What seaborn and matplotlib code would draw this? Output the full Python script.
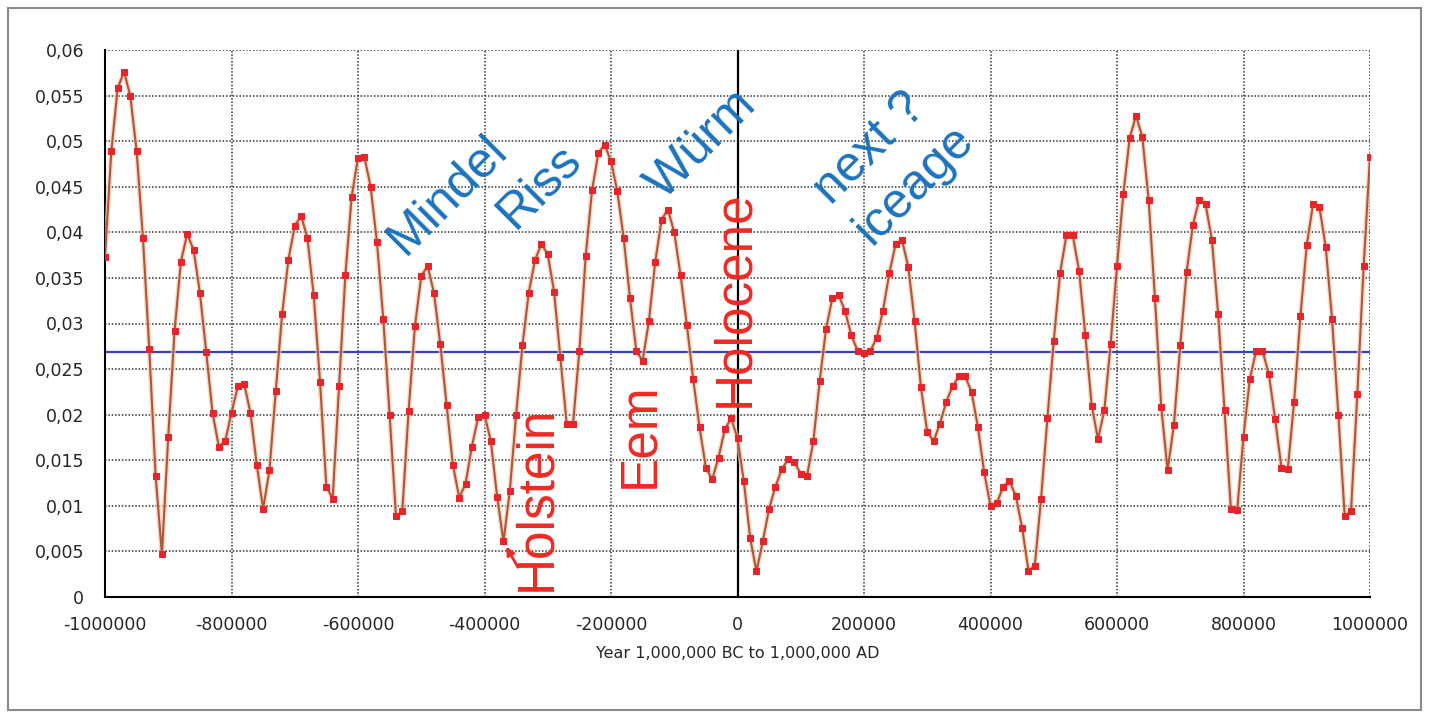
import numpy as np
import pandas as pd
import matplotlib
matplotlib.use("Agg")
import matplotlib.pyplot as plt
from matplotlib.patches import Rectangle
import seaborn as sns

# ---- data (eccentricity, sampled every 10,000 years) ----
year_start = -1000000
year_end = 1000000
year_step = 10000

ecc_a = [0.0373, 0.0489, 0.0558, 0.0576, 0.0550, 0.0489, 0.0394, 0.0272, 0.0133, 0.0047,
         0.0176, 0.0292, 0.0368, 0.0398, 0.0381, 0.0334, 0.0269, 0.0202, 0.0165, 0.0171,
         0.0202, 0.0231, 0.0234, 0.0202, 0.0145, 0.0097]
ecc_b = [0.0139, 0.0226, 0.0310, 0.0370, 0.0407, 0.0418, 0.0394, 0.0331, 0.0236, 0.0121,
         0.0108, 0.0231, 0.0353, 0.0439, 0.0482, 0.0483, 0.0450, 0.0389, 0.0305, 0.0200,
         0.0089, 0.0094, 0.0204, 0.0297, 0.0352]
ecc_c = [0.0363, 0.0334, 0.0278, 0.0211, 0.0145, 0.0109, 0.0124, 0.0165, 0.0197, 0.0200,
         0.0171, 0.0110, 0.0061, 0.0116, 0.0200, 0.0276, 0.0334, 0.0370, 0.0387, 0.0376,
         0.0335, 0.0263, 0.0190, 0.0190, 0.0270]
ecc_d = [0.0374, 0.0446, 0.0487, 0.0496, 0.0478, 0.0445, 0.0394, 0.0328, 0.0270, 0.0259,
         0.0303, 0.0368, 0.0414, 0.0425, 0.0400, 0.0353, 0.0298, 0.0239, 0.0186, 0.0142,
         0.0129, 0.0153, 0.0184, 0.0196, 0.0174]
ecc_e = [0.0127, 0.0065, 0.0028, 0.0061, 0.0097, 0.0121, 0.0140, 0.0151, 0.0148, 0.0135,
         0.0133, 0.0171, 0.0237, 0.0294, 0.0328, 0.0331, 0.0314, 0.0287, 0.0270, 0.0268,
         0.0270, 0.0284, 0.0314, 0.0355, 0.0387]
ecc_f = [0.0392, 0.0362, 0.0303, 0.0230, 0.0181, 0.0171, 0.0190, 0.0214, 0.0231, 0.0242,
         0.0242, 0.0225, 0.0187, 0.0137, 0.0100, 0.0103, 0.0121, 0.0127, 0.0111, 0.0076,
         0.0029, 0.0034, 0.0108, 0.0196, 0.0281]
ecc_g = [0.0355, 0.0397, 0.0397, 0.0358, 0.0287, 0.0210, 0.0173, 0.0205, 0.0278, 0.0363,
         0.0442, 0.0503, 0.0528, 0.0505, 0.0436, 0.0328, 0.0208, 0.0139, 0.0189, 0.0276,
         0.0356, 0.0408, 0.0436, 0.0431, 0.0392]
ecc_h = [0.0310, 0.0205, 0.0097, 0.0095, 0.0176, 0.0239, 0.0270, 0.0270, 0.0245, 0.0195,
         0.0142, 0.0140, 0.0214, 0.0308, 0.0386, 0.0431, 0.0428, 0.0384, 0.0305, 0.0200,
         0.0089, 0.0094, 0.0223, 0.0363, 0.0483]

mean_level = 0.0269

x_ticks = [-1000000, -800000, -600000, -400000, -200000, 0, 200000, 400000, 600000, 800000, 1000000]
y_ticks = [0, 0.005, 0.01, 0.015, 0.02, 0.025, 0.03, 0.035, 0.04, 0.045, 0.05, 0.055, 0.06]

blue_labels = ["Mindel", "Riss", "Würm", "next ?\niceage"]
blue_pos = [(-458000, 0.0441), (-313000, 0.0450), (-57000, 0.0496), (248000, 0.0474)]
red_labels = ["Holocene", "Eem", "Holstein"]
red_pos = [(-4700, 0.0327), (-155000, 0.0178), (-318000, 0.0108)]

x_label = "Year 1,000,000 BC to 1,000,000 AD"

# ---- build frame ----
years = np.arange(year_start, year_end + 1, year_step)
ecc = ecc_a + ecc_b + ecc_c + ecc_d + ecc_e + ecc_f + ecc_g + ecc_h
df = pd.DataFrame({"year": years, "ecc": ecc})

sns.set_style("white")
plt.rcParams["font.family"] = ["DejaVu Sans"]
plt.rcParams["axes.unicode_minus"] = False

W, H = 1429, 718
fig = plt.figure(figsize=(W / 100, H / 100), dpi=100)
ax = fig.add_axes([105 / W, 1 - 597 / H, (1370 - 105) / W, (597 - 50) / H])

grid_style = dict(color="#333333", linewidth=1.1, linestyle=(0, (1, 1.2)), zorder=1)
for yt in y_ticks[1:]:
    ax.axhline(yt, **grid_style)
for xt in x_ticks:
    if xt != 0 and xt != x_ticks[0]:
        ax.axvline(xt, **grid_style)

# mean level line
ax.axhline(mean_level, color="#3b3fb5", linewidth=1.6, zorder=2)
# zero year line
ax.axvline(0, color="black", linewidth=1.6, zorder=2)

# halo under line
ax.plot(df["year"], df["ecc"], color="#f6c9a8", linewidth=3.5, zorder=3, alpha=0.7)
sns.lineplot(data=df, x="year", y="ecc", ax=ax, color="#b0553c", linewidth=1.5,
             marker="s", markersize=4.8, markerfacecolor="#e8232a",
             markeredgecolor="#e8232a", zorder=4)

ax.set_xlim(year_start, year_end)
ax.set_ylim(0, 0.06)
ax.set_xticks(x_ticks)
ax.set_xticklabels([str(v) for v in x_ticks], fontsize=12.5)
ax.set_yticks(y_ticks)
ax.set_yticklabels([("%g" % v).replace(".", ",") for v in y_ticks], fontsize=12.5)
ax.tick_params(axis="x", direction="out", length=6, width=1.2, color="black", pad=8)
ax.tick_params(axis="y", direction="out", length=6, width=1.2, color="black", pad=9)
ax.set_xlabel(x_label, fontsize=11.5, labelpad=8)
ax.set_ylabel("")

for s in ["top", "right"]:
    ax.spines[s].set_visible(False)
for s in ["left", "bottom"]:
    ax.spines[s].set_color("black")
    ax.spines[s].set_linewidth(1.5)

for lab, (xx, yy) in zip(blue_labels, blue_pos):
    ax.text(xx, yy, lab, rotation=45, color="#1c72bd", fontsize=36,
            family=["Liberation Sans", "DejaVu Sans"], ha="center", va="center",
            multialignment="left", linespacing=1.3, zorder=5,
            rotation_mode="anchor")
for lab, (xx, yy) in zip(red_labels, red_pos):
    ax.text(xx, yy, lab, rotation=90, color="#ee2a24", fontsize=37,
            family=["Liberation Sans", "DejaVu Sans"], ha="center", va="center",
            zorder=5, rotation_mode="anchor", clip_on=False)

ax.annotate("", xy=(-368000, 0.0058), xytext=(-345000, 0.0030),
            arrowprops=dict(arrowstyle="-|>", color="#ee2a24", lw=2, mutation_scale=12),
            zorder=5)

fig.patches.append(Rectangle((8 / W, 8 / H), (W - 16) / W, (H - 16) / H,
                             transform=fig.transFigure, fill=False,
                             edgecolor="#8a8a8a", linewidth=1.5))

fig.savefig("out.png", dpi=100, facecolor="white")
